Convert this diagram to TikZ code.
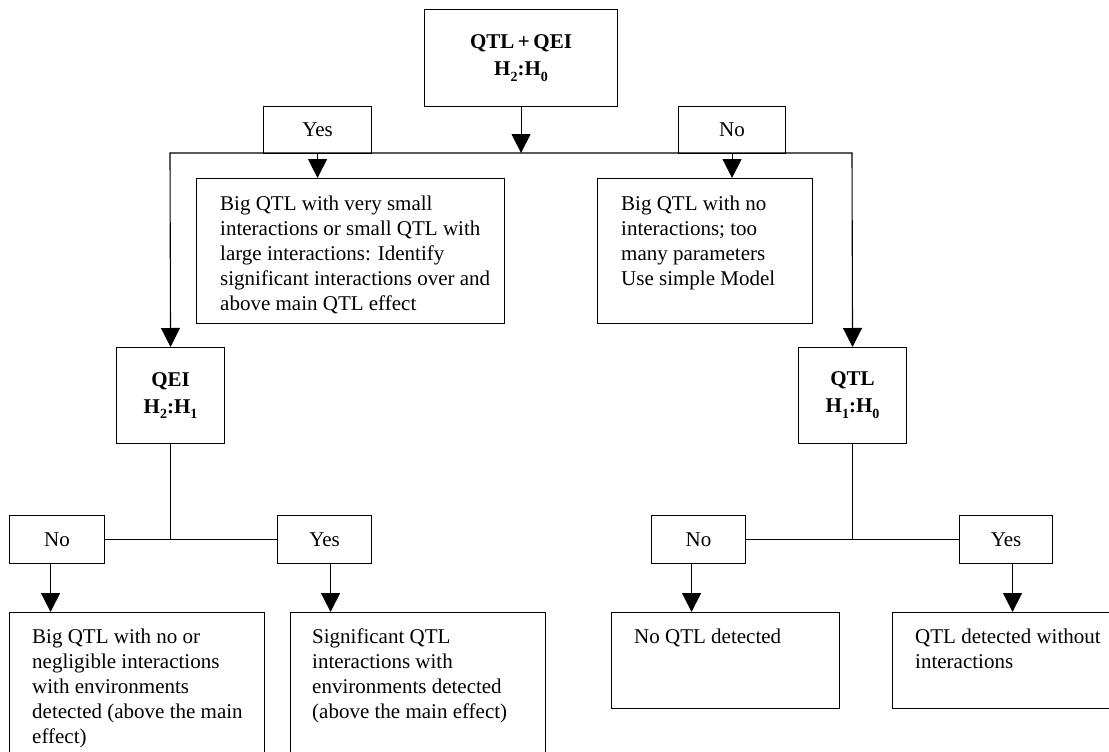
\documentclass[tikz,border=0pt]{standalone}
\usepackage{fontspec}
\setmainfont{Liberation Serif}
\usetikzlibrary{arrows.meta,calc}
\newcommand\tbody[1]{\parbox[t]{400pt}{\fontsize{21}{25}\selectfont\raggedright #1}}
\newcommand\sbx[1]{\raisebox{-0.28em}{\fontsize{14}{14}\selectfont #1}}
\begin{document}
\begin{tikzpicture}[x=1pt,y=-1pt,
  box/.style={draw,line width=1.1pt,rectangle,inner sep=0pt,anchor=north west},
  lbl/.style={box,font=\fontsize{21}{25}\selectfont},
  hdr/.style={box,align=center,font=\fontsize{21}{27}\selectfont\bfseries},
  txt/.style={anchor=base west,inner sep=0pt},
  conn/.style={draw,line width=1.1pt},
  arr/.style={conn,-{Triangle[width=19pt,length=19pt]}},
  arrboth/.style={conn,{Triangle[width=19pt,length=19pt]}-{Triangle[width=19pt,length=19pt]}}]
\useasboundingbox (0,0) rectangle (1109,752);
% boxes
\node[hdr,minimum width=193pt,minimum height=97pt] (top) at (424,9) {QTL\,+\,QEI\\H\sbx{2}:H\sbx{0}};
\node[lbl,minimum width=108pt,minimum height=47pt] (yes1) at (263,106) {Yes};
\node[lbl,minimum width=107pt,minimum height=47pt] (no1) at (678,106) {No};
\node[box,minimum width=308pt,minimum height=145pt] (ybox) at (196,178) {};
\node[box,minimum width=215pt,minimum height=145pt] (nbox) at (597,178) {};
\node[hdr,minimum width=108pt,minimum height=96pt] (qei) at (116,347) {QEI\\H\sbx{2}:H\sbx{1}};
\node[hdr,minimum width=108pt,minimum height=96pt] (qtl) at (798,347) {QTL\\H\sbx{1}:H\sbx{0}};
\node[lbl,minimum width=95pt,minimum height=48pt] (no2) at (9,515) {No};
\node[lbl,minimum width=94pt,minimum height=48pt] (yes2) at (277,515) {Yes};
\node[lbl,minimum width=94pt,minimum height=48pt] (no3) at (651,515) {No};
\node[lbl,minimum width=93pt,minimum height=48pt] (yes3) at (959,515) {Yes};
\node[box,minimum width=255pt,minimum height=170pt] (b1) at (9,612) {};
\node[box,minimum width=255pt,minimum height=170pt] (b2) at (290,612) {};
\node[box,minimum width=228pt,minimum height=96pt] (b3) at (611,612) {};
\node[box,minimum width=240pt,minimum height=96pt] (b4) at (892,612) {};
% texts
\node[txt] (ytxt) at ($(ybox.north west)+(24,32)$) {\tbody{Big QTL with very small\\interactions or small QTL with\\large interactions: Identify\\significant interactions over and\\above main QTL effect}};
\node[txt] (ntxt) at ($(nbox.north west)+(24,32)$) {\tbody{Big QTL with no\\interactions; too\\many parameters\\Use simple Model}};
\node[txt] (t1) at ($(b1.north west)+(23,31)$) {\tbody{Big QTL with no or\\negligible interactions\\with environments\\detected (above the main\\effect)}};
\node[txt] (t2) at ($(b2.north west)+(22,31)$) {\tbody{Significant QTL\\interactions with\\environments detected\\(above the main effect)}};
\node[txt] (t3) at ($(b3.north west)+(23,31)$) {\tbody{No QTL detected}};
\node[txt] (t4) at ($(b4.north west)+(23,31)$) {\tbody{QTL detected without\\interactions}};
% connectors
\coordinate (hl) at (170,153);
\coordinate (hr) at (852,153);
\draw[arrboth] (qei.north) -- (hl) -- (hr) -- (qtl.north);
\draw[arr] (top.south) -- (top.south |- hl);
\draw[arr] (yes1.south) -- (yes1.south |- ybox.north);
\draw[arr] (no1.south) -- (no1.south |- nbox.north);
\draw[conn] (qei.south) -- (qei.south |- no2.east);
\draw[conn] (no2.east) -- (yes2.west);
\draw[arr] ([xshift=-6.5pt]no2.south) -- ([xshift=-6.5pt]no2.south |- b1.north);
\draw[arr] ([xshift=6pt]yes2.south) -- ([xshift=6pt]yes2.south |- b2.north);
\draw[conn] (qtl.south) -- (qtl.south |- no3.east);
\draw[conn] (no3.east) -- (yes3.west);
\draw[arr] ([xshift=-7pt]no3.south) -- ([xshift=-7pt]no3.south |- b3.north);
\draw[arr] ([xshift=6.5pt]yes3.south) -- ([xshift=6.5pt]yes3.south |- b4.north);
\end{tikzpicture}
\end{document}
